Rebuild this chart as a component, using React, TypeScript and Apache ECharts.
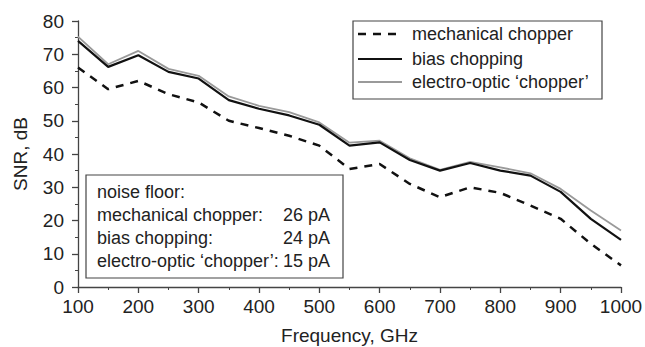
import React, { useEffect, useRef } from "react";
import * as echarts from "echarts";

const freqs = [100, 150, 200, 250, 300, 350, 400, 450, 500, 550, 600, 650, 700, 750, 800, 850, 900, 950, 1000];
const mechanical = [66, 59.5, 62, 58, 55.5, 50, 47.8, 45.5, 42.5, 35.5, 37, 31, 27, 30, 28.3, 24.5, 20.5, 13, 6.5];
const bias = [74, 66.2, 69.7, 64.7, 62.7, 56.2, 53.6, 51.6, 48.8, 42.5, 43.5, 38.2, 35, 37.3, 35, 33.5, 28.6, 20.5, 14.2];
const electro = [75.3, 67, 71, 65.6, 63.5, 57.3, 54.5, 52.6, 49.5, 43.4, 44, 38.7, 35.2, 37.6, 36, 34.2, 29.5, 23, 17];
const seriesNames = ["mechanical chopper", "bias chopping", "electro-optic \u2018chopper\u2019"];
const noiseLabels = ["mechanical chopper:", "bias chopping:", "electro-optic \u2018chopper\u2019:"];
const noiseValues = ["26 pA", "24 pA", "15 pA"];

const FONT = "Liberation Sans, Arial, sans-serif";

export default function App() {
  const ref = useRef<HTMLDivElement>(null);
  useEffect(() => {
    if (!ref.current) return;
    const chart = echarts.init(ref.current, undefined, { renderer: "svg" });
    const pair = (arr: number[]) => freqs.map((f, i) => [f, arr[i]]);
    const textColor = "#222";
    const axisColor = "#444";
    const styles = [
      { color: "#111", width: 2.5, dash: [8, 7] as number[] | null },
      { color: "#111", width: 2.2, dash: null },
      { color: "#9a9a9a", width: 1.8, dash: null },
    ];
    const font = `18px ${FONT}`;
    const noiseTexts: any[] = [
      { type: "text", x: 97, y: 192, style: { text: "noise floor:", font, fill: textColor, verticalAlign: "middle" } },
    ];
    noiseLabels.forEach((t, i) => {
      noiseTexts.push({ type: "text", x: 97, y: 215 + i * 23, style: { text: t, font, fill: textColor, verticalAlign: "middle" } });
      noiseTexts.push({ type: "text", x: 283, y: 215 + i * 23, style: { text: noiseValues[i], font, fill: textColor, verticalAlign: "middle" } });
    });
    const legendEls: any[] = [
      {
        type: "rect",
        shape: { x: 353, y: 21, width: 249, height: 78 },
        style: { fill: "#fff", stroke: "#444", lineWidth: 1.2 },
      },
    ];
    const rowsY = [34, 59, 82];
    seriesNames.forEach((n, i) => {
      legendEls.push({
        type: "line",
        shape: { x1: 358, y1: rowsY[i], x2: 402, y2: rowsY[i] },
        style: { stroke: styles[i].color, lineWidth: styles[i].width, lineDash: styles[i].dash || undefined },
      });
      legendEls.push({
        type: "text",
        x: 412,
        y: rowsY[i],
        style: { text: n, font, fill: textColor, verticalAlign: "middle" },
      });
    });
    chart.setOption({
      animation: false,
      backgroundColor: "#fff",
      grid: { left: 78, right: 24, top: 21, bottom: 60, containLabel: false, outerBoundsMode: "none" },
      xAxis: {
        type: "value",
        min: 100,
        max: 1000,
        interval: 100,
        name: "Frequency, GHz",
        nameLocation: "middle",
        nameGap: 39,
        nameTextStyle: { fontFamily: FONT, fontSize: 19, color: textColor },
        axisLine: { lineStyle: { color: axisColor, width: 1.3 } },
        axisTick: { length: 6, lineStyle: { color: axisColor, width: 1.3 } },
        minorTick: { show: true, splitNumber: 2, length: 3, lineStyle: { color: axisColor, width: 1 } },
        splitLine: { show: false },
        axisLabel: { margin: 10, fontFamily: FONT, fontSize: 19, color: textColor, formatter: (v: number) => String(v) },
      },
      yAxis: {
        type: "value",
        min: 0,
        max: 80,
        interval: 10,
        name: "SNR, dB",
        nameLocation: "middle",
        nameGap: 48,
        nameTextStyle: { fontFamily: FONT, fontSize: 19, color: textColor },
        axisLine: { show: true, lineStyle: { color: axisColor, width: 1.3 } },
        axisTick: { show: true, length: 6, lineStyle: { color: axisColor, width: 1.3 } },
        minorTick: { show: true, splitNumber: 2, length: 3, lineStyle: { color: axisColor, width: 1 } },
        splitLine: { show: false },
        axisLabel: { margin: 14, fontFamily: FONT, fontSize: 19, color: textColor },
      },
      series: [
        {
          name: seriesNames[0],
          type: "line",
          data: pair(mechanical),
          symbol: "none",
          lineStyle: { color: styles[0].color, width: styles[0].width, type: styles[0].dash as number[] },
          z: 2,
        },
        {
          name: seriesNames[1],
          type: "line",
          data: pair(bias),
          symbol: "none",
          lineStyle: { color: styles[1].color, width: styles[1].width },
          z: 3,
        },
        {
          name: seriesNames[2],
          type: "line",
          data: pair(electro),
          symbol: "none",
          lineStyle: { color: styles[2].color, width: styles[2].width },
          z: 2,
        },
      ],
      graphic: [
        {
          type: "rect",
          shape: { x: 86, y: 175, width: 257, height: 103 },
          style: { fill: "#fff", stroke: "#444", lineWidth: 1.2 },
          z: 10,
        },
        ...noiseTexts.map((t) => ({ ...t, z: 11 })),
        ...legendEls.map((t) => ({ ...t, z: 12 })),
      ],
    });
    return () => chart.dispose();
  }, []);
  return <div ref={ref} style={{ width: 645, height: 347, position: "absolute", left: 0, top: 0 }} />;
}
